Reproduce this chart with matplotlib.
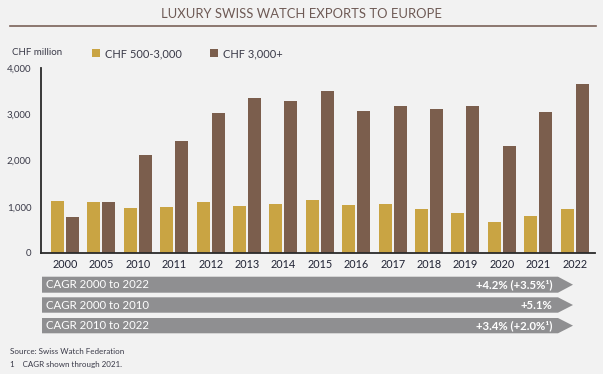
import matplotlib
matplotlib.use("Agg")
import matplotlib.pyplot as plt
from matplotlib.patches import Polygon
import numpy as np

years = ["2000", "2005", "2010", "2011", "2012", "2013", "2014", "2015",
         "2016", "2017", "2018", "2019", "2020", "2021", "2022"]
mid_segment = [1126, 1104, 974, 996, 1104, 1017, 1061, 1147,
               1039, 1061, 952, 866, 671, 801, 952]
high_segment = [780, 1104, 2121, 2424, 3030, 3355, 3290, 3506,
                3074, 3182, 3117, 3182, 2316, 3052, 3658]
series_names = ["CHF 500-3,000", "CHF 3,000+"]
yticks = [0, 1000, 2000, 3000, 4000]
ytick_labels = ["0", "1,000", "2,000", "3,000", "4,000"]
cagr_labels = ["CAGR 2000 to 2022", "CAGR 2000 to 2010", "CAGR 2010 to 2022"]
cagr_values = ["+4.2% (+3.5%\u00b9)", "+5.1%", "+3.4% (+2.0%\u00b9)"]

W, H = 603, 374
BG = "#f2f2f2"
GOLD = "#c9a443"
BROWN = "#7b5e4d"
TEXT = "#3a3a48"
GRAY = "#8f8f91"
FONT = "Lato"

fig = plt.figure(figsize=(W / 100, H / 100), dpi=100, facecolor=BG)

def fx(x):
    return x / W

def fy(y):
    return 1 - y / H

# Title and rule
fig.text(fx(301), fy(14), "LUXURY SWISS WATCH EXPORTS TO EUROPE", ha="center", va="center",
         fontsize=9.4, color="#6e5a55", family=FONT)
fig.add_artist(plt.Line2D([fx(10), fx(596)], [fy(25.5), fy(25.5)], color="#7b6259", lw=1.2,
                          transform=fig.transFigure))

# Axes
ax = fig.add_axes([fx(41), fy(253), fx(595) - fx(41), fy(68) - fy(253)])
ax.set_facecolor(BG)
x = np.arange(len(years))
bw = 0.357
off = 0.206
ax.bar(x - off, mid_segment, width=bw, color=GOLD, label=series_names[0])
ax.bar(x + off, high_segment, width=bw, color=BROWN, label=series_names[1])
ax.set_xlim(-0.66, len(years) - 1 + 0.56)
ax.set_ylim(0, 4000)
ax.set_yticks(yticks)
ax.set_yticklabels(ytick_labels, family=FONT, fontsize=7, color=TEXT)
ax.set_xticks(x)
ax.set_xticklabels(years, family=FONT, fontsize=7.8, color="#1f2233")
ax.tick_params(axis="both", length=0)
ax.tick_params(axis="y", pad=7)
ax.tick_params(axis="x", pad=4)
for s in ["top", "right"]:
    ax.spines[s].set_visible(False)
for s in ["left", "bottom"]:
    ax.spines[s].set_color("#2a2a2a")
    ax.spines[s].set_linewidth(1.3)

# Units label and legend
fig.text(fx(12), fy(52.5), "CHF million", ha="left", va="center", fontsize=7, color=TEXT, family=FONT)
leg = ax.legend(loc="center left", bbox_to_anchor=(fx(92), fy(53.5)), bbox_transform=fig.transFigure,
                ncol=2, frameon=False, handlelength=0.75, handleheight=0.75, handletextpad=0.45,
                columnspacing=2.5, borderpad=0, borderaxespad=0,
                prop={"family": FONT, "size": 8})
for t in leg.get_texts():
    t.set_color(TEXT)

# CAGR arrows
rows = [(276.7, 292.7), (297.3, 312.7), (318, 333.3)]
for (top, bot), lab, val in zip(rows, cagr_labels, cagr_values):
    mid = (top + bot) / 2
    pts = [(fx(42), fy(top)), (fx(558), fy(top)), (fx(573), fy(mid)),
           (fx(558), fy(bot)), (fx(42), fy(bot))]
    fig.add_artist(Polygon(pts, closed=True, facecolor=GRAY, edgecolor="none",
                           transform=fig.transFigure))
    fig.text(fx(46.5), fy(mid + 0.3), lab, ha="left", va="center", fontsize=8.2,
             color="white", family=FONT)
    fig.text(fx(552), fy(mid + 0.3), val, ha="right", va="center", fontsize=8.2,
             color="white", family=FONT, fontweight="bold")

# Footer
fig.text(fx(10), fy(352), "Source: Swiss Watch Federation", ha="left", va="center",
         fontsize=5.8, color=TEXT, family=FONT)
fig.text(fx(10), fy(365), "1    CAGR shown through 2021.", ha="left", va="center",
         fontsize=5.8, color=TEXT, family=FONT)

fig.savefig("out.png", dpi=100, facecolor=BG)
